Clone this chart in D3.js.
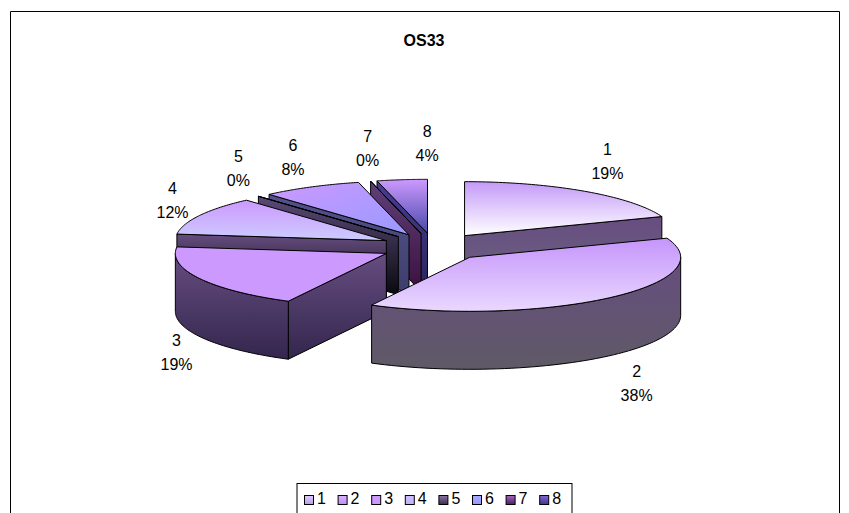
<!DOCTYPE html>
<html><head><meta charset="utf-8">
<script src="https://d3js.org/d3.v7.min.js"></script>
<style>html,body{margin:0;background:#fff}svg{display:block}</style></head>
<body><svg width="849" height="513"></svg>
<script>
const categories = ["1","2","3","4","5","6","7","8"];
const counts = [5,10,5,3,0,2,0,1];
const chartTitle = "OS33";
// top surface gradient [from,to] and gradient direction
const topColors = [["#c49af8","#ffffff"],["#c595fb","#ead8ff"],["#cc99ff","#cc99ff"],["#cc99ff","#ccccff"],["#6a5085","#4a3a66"],["#cc99ff","#9999ff"],["#5f3a70","#4a2a60"],["#cc99ff","#4848a8"]];
const wallColors = [["#664d80","#6e6680"],["#664d80","#5f5a66"],["#664d80","#33264d"],["#664d80","#08060c"],["#5a4a78","#0a0a10"],["#52528c","#3e3e6c"],["#5f4078","#3c1040"],["#483c90","#26265c"]];
const legendColors = [["#e0ccff","#b79cf0"],["#d9b3ff","#c28cf5"],["#cc99ff","#cc99ff"],["#cfc0ff","#c0b0ff"],["#8f77aa","#3a2c4c"],["#aaaaff","#9999ff"],["#a866c0","#4a2060"],["#8866d0","#383890"]];
const labelNudges = [[23,-30],[27,85],[-23,74],[-27,-16],[-20,-28],[-18,-30],[-3,-33],[25,-37]];

const svg = d3.select("svg");
const defs = svg.append("defs");
const W = 849, H = 513;
const cx = 434, cy = 247, rx = 211, ry = 54, depth = 58, explode = 0.255;
const sx = d3.scaleLinear().domain([-1,1]).range([cx-rx,cx+rx]);
const sy = d3.scaleLinear().domain([-1,1]).range([cy-ry,cy+ry]);
const total = d3.sum(counts);
const pct = d3.format(".0%");
const pie = d3.pie().sort(null).value(d=>d);
const arcs = pie(counts);
const line = d3.line();

function grad(id, c, horiz){
  const g = defs.append("linearGradient").attr("id",id)
    .attr("x1",0).attr("y1",0).attr("x2",horiz?1:0).attr("y2",1);
  g.append("stop").attr("offset",0).attr("stop-color",c[0]);
  g.append("stop").attr("offset",1).attr("stop-color",c[1]);
}
categories.forEach((c,i)=>{
  grad("top"+i,topColors[i],i===5);
  grad("wall"+i,wallColors[i]);
  grad("leg"+i,legendColors[i]);
});

// frame
svg.append("path").attr("d",line([[10.5,513],[10.5,11.5],[839.5,11.5],[839.5,513]]))
  .attr("fill","#fff").attr("stroke","#000").attr("stroke-width",1);

svg.append("text").attr("x",424).attr("y",46).attr("text-anchor","middle")
  .attr("font-family","Liberation Sans").attr("font-weight","bold").attr("font-size",16).text(chartTitle);

function pieces(a,i){
  const m=(a.startAngle+a.endAngle)/2;
  const ox=(sx(Math.sin(m)*explode)-cx), oy=(sy(-Math.cos(m)*explode)-cy);
  const P=(t,d=0)=>[sx(Math.sin(t))+ox, sy(-Math.cos(t))+oy+d];
  const C=(d=0)=>[cx+ox,cy+oy+d];
  const steps=t0=>t1=>d3.range(0,61).map(k=>t0+(t1-t0)*k/60);
  const g=svg.append("g");
  const wall=(pts,idx)=>g.append("path").attr("d",line(pts)+"Z").attr("fill",`url(#wall${idx})`)
    .attr("stroke","#000").attr("stroke-width",1).attr("stroke-linejoin","round");
  const s=a.startAngle,e=a.endAngle;
  if(Math.sin(e)>1e-6 && e>s) wall([C(),P(e),P(e,depth),C(depth)],i);
  if(Math.sin(s)<-1e-6) wall([C(),P(s),P(s,depth),C(depth)],i);
  const vs=Math.max(s,Math.PI/2), ve=Math.min(e,1.5*Math.PI);
  if(ve>vs){
    const ts=steps(vs)(ve);
    wall(ts.map(t=>P(t)).concat(ts.slice().reverse().map(t=>P(t,depth))),i);
  }
  const top=[C()].concat(steps(s)(e).map(t=>P(t)));
  g.append("path").attr("d",line(top)+"Z").attr("fill",`url(#top${i})`)
    .attr("stroke","#000").attr("stroke-width",1).attr("stroke-linejoin","round");
}
[7,6,5,4,3,0,2,1].forEach(i=>pieces(arcs[i],i));

// labels
arcs.forEach((a,i)=>{
  const m=(a.startAngle+a.endAngle)/2, k=1+explode;
  const x=sx(Math.sin(m)*k)+labelNudges[i][0], y=sy(-Math.cos(m)*k)+labelNudges[i][1];
  const t=svg.append("text").attr("text-anchor","middle").attr("font-family","Liberation Sans").attr("font-size",16).attr("fill","#000");
  t.append("tspan").attr("x",x).attr("y",y-6).text(categories[i]);
  t.append("tspan").attr("x",x).attr("y",y+18).text(pct(a.value/total));
});

// legend
const lx=297, ly=483.5, step=33.6;
svg.append("rect").attr("x",lx).attr("y",ly).attr("width",275).attr("height",30).attr("fill","#fff").attr("stroke","#000");
const lg=svg.selectAll("g.leg").data(categories).join("g").attr("class","leg")
  .attr("transform",(d,i)=>`translate(${lx+7+i*step},0)`);
lg.append("rect").attr("x",0.5).attr("y",495.5).attr("width",9).attr("height",9)
  .attr("fill",(d,i)=>`url(#leg${i})`).attr("stroke","#000");
lg.append("text").attr("x",13).attr("y",504).attr("font-family","Liberation Sans").attr("font-size",16).text(d=>d);
</script></body></html>
